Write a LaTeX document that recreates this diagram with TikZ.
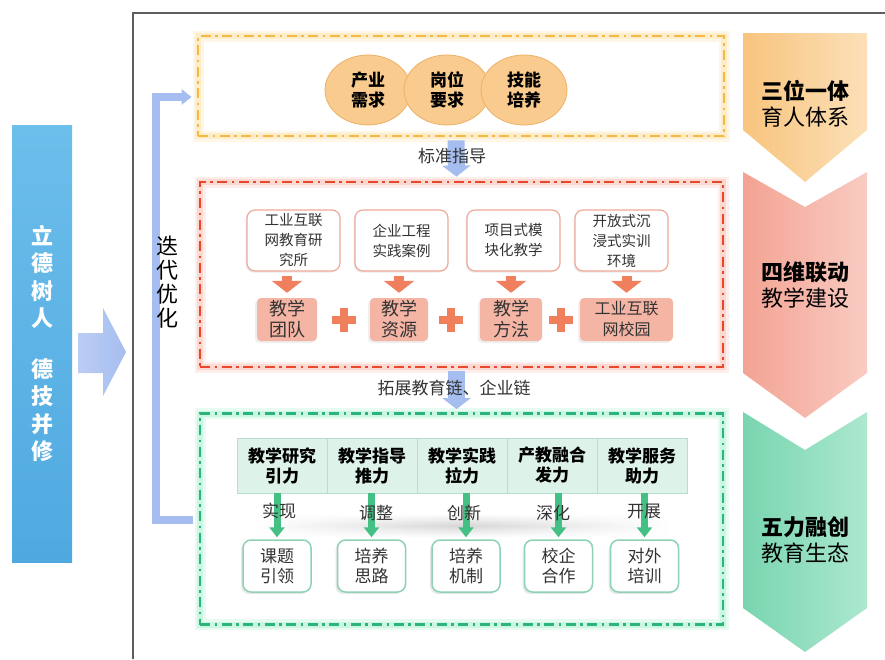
\documentclass[tikz,border=0pt]{standalone}
\usepackage{fontspec}
\setmainfont{Noto Sans CJK SC}
\usetikzlibrary{shapes.geometric,arrows.meta,shadows,fadings,calc}
\definecolor{barA}{HTML}{6CBEEB}
\definecolor{barB}{HTML}{4FA9E0}
\definecolor{arrblue}{HTML}{A5BDEF}
\definecolor{ybord}{HTML}{F5B943}
\definecolor{yglow}{HTML}{FDE3A6}
\definecolor{rbord}{HTML}{E9472C}
\definecolor{rglow}{HTML}{F9BEB0}
\definecolor{gbord}{HTML}{2CB57A}
\definecolor{gglow}{HTML}{A6F0CF}
\definecolor{circfill}{HTML}{F9CB8F}
\definecolor{circline}{HTML}{EDB067}
\definecolor{redarr}{HTML}{F07F5E}
\definecolor{pinkc}{HTML}{F5B5A5}
\definecolor{wbord}{HTML}{F0A898}
\definecolor{mint}{HTML}{DDF2E8}
\definecolor{mintline}{HTML}{B9DFCC}
\definecolor{garr}{HTML}{45C084}
\definecolor{gboxline}{HTML}{8DD3B3}
\definecolor{chyA}{HTML}{F8C47E}
\definecolor{chyB}{HTML}{FCE0B8}
\definecolor{chrA}{HTML}{F3A393}
\definecolor{chrB}{HTML}{F9CBC2}
\definecolor{chgA}{HTML}{79D5AF}
\definecolor{chgB}{HTML}{ACE8CF}
\definecolor{framec}{HTML}{5E5E5E}
\definecolor{txtc}{HTML}{333333}
\tikzfading[name=fadeends, left color=transparent!100, right color=transparent!100, middle color=transparent!0]
\begin{document}
\begin{tikzpicture}[x=1pt,y=-1pt,
  dbox/.style 2 args={draw=#1, line width=2.8pt, dash pattern=on 10pt off 4.5pt on 2.5pt off 4.5pt,
     preaction={draw=#2, line width=11pt, opacity=0.25, solid},
     preaction={draw=#2, line width=6pt, opacity=0.45, solid}, inner sep=0pt},
  circ/.style={ellipse, draw=circline, line width=0.8pt, fill=circfill, minimum width=86pt, minimum height=70pt,
     font=\bfseries\fontsize{17}{20}\selectfont, align=center, inner sep=0pt},
  wbox/.style={draw=wbord, line width=1.2pt, fill=white, rounded corners=8pt, minimum width=93pt, minimum height=61pt,
     align=center, font=\fontsize{14.5}{20}\selectfont, text=txtc, inner sep=0pt,
     drop shadow={opacity=0.15, shadow xshift=-1.5pt, shadow yshift=-1.5pt}},
  pbox/.style={fill=pinkc, rounded corners=4pt, minimum width=60pt, minimum height=43pt, inner sep=0pt,
     align=center, font=\fontsize{18}{21}\selectfont, text=txtc,
     drop shadow={opacity=0.12, shadow xshift=-2pt, shadow yshift=-2pt}},
  hcell/.style={draw=mintline, fill=mint, minimum width=90pt, minimum height=55pt, inner sep=0pt,
     font=\bfseries\fontsize{17}{20}\selectfont, align=center},
  gbox/.style={draw=gboxline, line width=1.5pt, fill=white, rounded corners=8pt, minimum width=68pt, minimum height=52pt,
     inner sep=0pt, font=\fontsize{17}{20}\selectfont, text=txtc, align=center,
     drop shadow={opacity=0.18, shadow xshift=-2pt, shadow yshift=-2pt}},
  lbl/.style={font=\fontsize{17}{20}\selectfont, text=txtc, inner sep=0pt},
  chtxt/.style={font=\fontsize{22}{26}\selectfont, align=center, inner sep=0pt},
  barrow/.style={draw=arrblue, line width=17pt, -{Triangle[width=28pt,length=11pt]}},
  rarrow/.style={draw=redarr, line width=10pt, -{Triangle[width=30pt,length=12pt]}, shorten <=4pt, shorten >=5pt},
  garrow/.style={draw=garr, line width=7pt, -{Triangle[width=15pt,length=10pt]}, shorten >=2pt},
  plusmark/.style={fill=redarr}
]
\useasboundingbox (0,0) rectangle (885,659);
\fill[white] (0,0) rectangle (885,659);

% outer frame
\draw[framec, line width=2pt] (885,13) -- (133,13) -- (133,659);

% left bar
\node[top color=barA, bottom color=barB, minimum width=60pt, minimum height=437pt, inner sep=0pt,
  text=white, font=\bfseries\fontsize{22}{27.5}\selectfont, align=center] (bar) at (42,343.5)
  {立\\德\\树\\人\\[23pt]德\\技\\并\\修};

% big arrow
\shade[left color=arrblue!75!white, right color=arrblue]
  (78,333) -- (103,333) -- (103,308) -- (126,352) -- (103,396) -- (103,373) -- (78,373) -- cycle;

% right chevrons
\shade[left color=chyA, right color=chyB] (743,33) -- (867,33) -- (867,130) -- (805,182) -- (743,130) -- cycle;
\shade[left color=chrA, right color=chrB] (743,172) -- (805,207) -- (867,172) -- (867,373) -- (805,418) -- (743,373) -- cycle;
\shade[left color=chgA, right color=chgB] (743,412) -- (805,450) -- (867,412) -- (867,608) -- (805,652) -- (743,608) -- cycle;
\node[chtxt] (ch1) at (805,104) {{\bfseries 三位一体}\\育人体系};
\node[chtxt] (ch2) at (805,285) {{\bfseries 四维联动}\\教学建设};
\node[chtxt] (ch3) at (805,540) {{\bfseries 五力融创}\\教育生态};

% main boxes
\node[dbox={ybord}{yglow}, minimum width=526pt, minimum height=100pt] (ybox) at (461,86) {};
\node[dbox={rbord}{rglow}, minimum width=523pt, minimum height=185pt] (rbox) at (461.5,274.5) {};
\node[dbox={gbord}{gglow}, minimum width=523pt, minimum height=211pt] (gbox) at (461.5,519) {};

% iteration bracket
\coordinate (itS) at (193,520);
\coordinate (itE) at (ybox.west |- 0,97);
\draw[arrblue, line width=8pt, -{Triangle[width=15pt,length=10pt]}, shorten >=5pt]
  (itS) -- (156,520) -- (156,97) -- (itE);
\node[font=\fontsize{22}{24}\selectfont, align=center, inner sep=0pt] (iter) at (167,282) {迭\\代\\优\\化};

% blue arrows between boxes
\draw[barrow, shorten <=3pt, shorten >=4pt] ([xshift=-5pt]ybox.south) -- ([xshift=-5pt]rbox.north);
\draw[barrow, shorten <=3pt, shorten >=3pt] ([xshift=-5pt]rbox.south) -- ([xshift=-5pt]gbox.north);
\node[lbl] (t1) at (452,156) {标准指导};
\node[lbl] (t2) at (454,388) {拓展教育链、企业链};

% circles
\node[circ] (c1) at (368,90) {产业\\需求};
\node[circ] (c2) at (447,90) {岗位\\要求};
\node[circ] (c3) at (524,90) {技能\\培养};

% red section
\node[wbox] (w1) at (293.5,240.5) {工业互联\\网教育研\\究所};
\node[wbox] (w2) at (401.5,240.5) {企业工程\\实践案例};
\node[wbox] (w3) at (513.5,240.5) {项目式模\\块化教学};
\node[wbox] (w4) at (621.5,240.5) {开放式沉\\浸式实训\\环境};
\node[pbox] (p1) at (287,319.5) {教学\\团队};
\node[pbox, minimum width=58pt] (p2) at (399,319.5) {教学\\资源};
\node[pbox, minimum width=62pt] (p3) at (511,319.5) {教学\\方法};
\node[pbox, minimum width=93pt, font=\fontsize{16}{21}\selectfont] (p4) at (626.5,319.5) {工业互联\\网校园};
\foreach \i in {1,2,3,4} {
  \draw[rarrow] (p\i.north |- w\i.south) -- (p\i.north);
}
\coordinate (pl1) at ($(p1.east)!0.5!(p2.west)$);
\coordinate (pl2) at ($(p2.east)!0.5!(p3.west)+(-3,0)$);
\coordinate (pl3) at ($(p3.east)!0.5!(p4.west)$);
\foreach \c in {pl1,pl2,pl3} {
  \fill[plusmark] ($(\c)+(-12,-4)$) rectangle ($(\c)+(12,4)$);
  \fill[plusmark] ($(\c)+(-4,-12)$) rectangle ($(\c)+(4,12)$);
}

% green section
\node[hcell] (h1) at (282,465.5) {教学研究\\引力};
\node[hcell] (h2) at (372,465.5) {教学指导\\推力};
\node[hcell] (h3) at (462,465.5) {教学实践\\拉力};
\node[hcell] (h4) at (552,465.5) {产教融合\\发力};
\node[hcell] (h5) at (642,465.5) {教学服务\\助力};
\shade[top color=white, bottom color=white, middle color=black!16, path fading=fadeends] (255,514) rectangle (668,537);
\node[gbox] (b1) at (277,566) {课题\\引领};
\node[gbox] (b2) at (371.5,566) {培养\\思路};
\node[gbox] (b3) at (466,566) {培养\\机制};
\node[gbox] (b4) at (558.5,566) {校企\\合作};
\node[gbox] (b5) at (644.5,566) {对外\\培训};
\foreach \i in {1,...,5} {
  \draw[garrow] (b\i.north |- h\i.south) -- (b\i.north);
}
\node[lbl] (l1) at (279,511) {实现};
\node[lbl] (l2) at (376,513) {调整};
\node[lbl] (l3) at (464,513) {创新};
\node[lbl] (l4) at (553,513) {深化};
\node[lbl] (l5) at (644,511) {开展};
\end{tikzpicture}
\end{document}
